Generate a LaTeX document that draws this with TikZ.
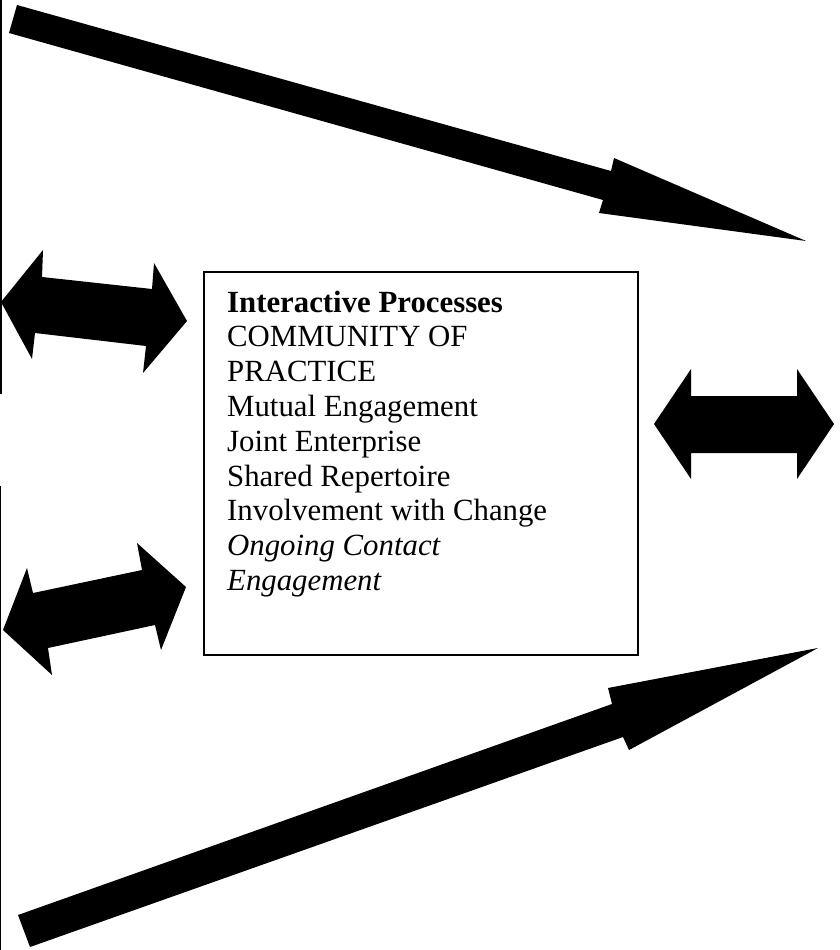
\documentclass[tikz,border=0pt]{standalone}
\usepackage{fontspec}
\setmainfont{Liberation Serif}
\begin{document}
\begin{tikzpicture}[x=1pt,y=-1pt,
  bigarrow/.style={fill=black,draw=none},
  framebox/.style={draw=black,line width=1.3pt,fill=none},
  txt/.style={anchor=base west,inner sep=0pt,font=\fontsize{30.8}{34.8}\selectfont}]
\useasboundingbox (0,0) rectangle (839,950);
% left edge lines
\draw[line width=2pt] (1,0) -- (1,394);
\draw[line width=0.9pt] (0.6,486) -- (0.6,950);
% box
\draw[framebox] (204,272) rectangle (638,655);
\node[inner sep=0pt] (box) at (421,463.5) {};
% long arrows
\fill[bigarrow] (17,5) -- (611,171) -- (614,158) -- (806,241) -- (599,213) -- (603,200) -- (9,33) -- cycle;
\fill[bigarrow] (18,915) -- (612,704) -- (608,688) -- (818,648) -- (629,750) -- (623,737) -- (30,947) -- cycle;
% double arrows
\fill[bigarrow] (1,302) -- (43,250) -- (42,277) -- (152,289) -- (154,263) -- (187,321) -- (143,373) -- (146,346) -- (35,333) -- (32,359) -- cycle;
\fill[bigarrow] (3,630) -- (27,568) -- (33,593) -- (142,570) -- (137,543) -- (186,587) -- (161,650) -- (155,625) -- (48,648) -- (52,675) -- cycle;
\fill[bigarrow] (654,424) -- (691,369) -- (691,396) -- (797,396) -- (797,369) -- (834,424) -- (797,479) -- (797,453) -- (691,453) -- (691,479) -- cycle;
% text
\node[txt] (t1) at (227,312.0) {\bfseries Interactive Processes};
\node[txt] (t2) at (227,346.8) {COMMUNITY OF};
\node[txt] (t3) at (227,381.6) {PRACTICE};
\node[txt] (t4) at (227,416.4) {Mutual Engagement};
\node[txt] (t5) at (227,451.2) {Joint Enterprise};
\node[txt] (t6) at (227,486.0) {Shared Repertoire};
\node[txt] (t7) at (227,520.8) {Involvement with Change};
\node[txt] (t8) at (227,555.6) {\itshape Ongoing Contact};
\node[txt] (t9) at (227,590.4) {\itshape Engagement};
\end{tikzpicture}
\end{document}
